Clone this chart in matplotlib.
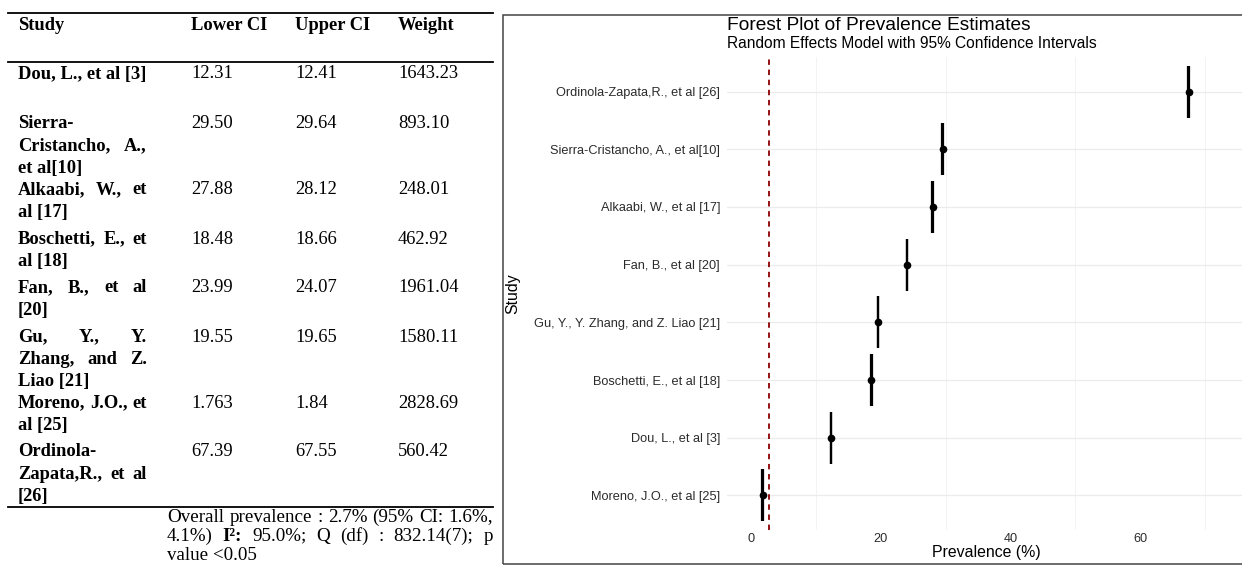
import numpy as np
import matplotlib
matplotlib.use("Agg")
import matplotlib.pyplot as plt
from matplotlib.lines import Line2D
from matplotlib.patches import Rectangle

# Study data (table + forest plot)
studies = ["Dou, L., et al [3]", "Sierra-Cristancho, A., et al[10]", "Alkaabi, W., et al [17]",
           "Boschetti, E., et al [18]", "Fan, B., et al [20]", "Gu, Y., Y. Zhang, and Z. Liao [21]",
           "Moreno, J.O., et al [25]", "Ordinola-Zapata,R., et al [26]"]
lower_ci = ["12.31", "29.50", "27.88", "18.48", "23.99", "19.55", "1.763", "67.39"]
upper_ci = ["12.41", "29.64", "28.12", "18.66", "24.07", "19.65", "1.84", "67.55"]
weights = ["1643.23", "893.10", "248.01", "462.92", "1961.04", "1580.11", "2828.69", "560.42"]
pooled = 2.7

# how the names wrap inside the table's study column
study_lines = [["Dou, L., et al [3]"],
               ["Sierra-", "Cristancho, A.,", "et al[10]"],
               ["Alkaabi, W., et", "al [17]"],
               ["Boschetti, E., et", "al [18]"],
               ["Fan, B., et al", "[20]"],
               ["Gu, Y., Y.", "Zhang, and Z.", "Liao [21]"],
               ["Moreno, J.O., et", "al [25]"],
               ["Ordinola-", "Zapata,R., et al", "[26]"]]
header = ["Study", "Lower CI", "Upper CI", "Weight"]
footnote = ["Overall prevalence : 2.7% (95% CI: 1.6%,",
            "4.1%) I²: 95.0%; Q (df) : 832.14(7); p",
            "value <0.05"]

W, H = 1242, 566
fig = plt.figure(figsize=(W / 100, H / 100), dpi=100)
renderer = fig.canvas.get_renderer()


def fx(x):
    return x / W


def fy(y):
    return 1 - y / H


SERIF = "Liberation Serif"
SANS = "Liberation Sans"
TSIZE = 13.3


def put_line(text, x0, x1, y, justify, bold_words=(), **kw):
    # word-by-word placement so lines can be justified like the source table
    words = text.split()
    if not justify or len(words) == 1:
        fig.text(fx(x0), fy(y), text, va="center", **kw)
        return
    objs = []
    for w in words:
        extra = {"weight": "bold"} if w in bold_words else {}
        objs.append(fig.text(0, fy(y), w, va="center", **{**kw, **extra}))
    widths = [o.get_window_extent(renderer).width for o in objs]
    gap = (x1 - x0 - sum(widths)) / (len(words) - 1)
    x = x0
    for o, w in zip(objs, widths):
        o.set_x(fx(x))
        x += w + gap


# ---- left: table ----
col_x = [18, 191, 295, 398]
row_y = [74, 124, 190, 239, 288, 337, 403, 452]
line_gap = 22.2

for x, h in zip(col_x, header):
    fig.text(fx(x), fy(25), h, va="center", family=SERIF, size=TSIZE, weight="bold")

for i in range(len(studies)):
    lines = study_lines[i]
    for j, ln in enumerate(lines):
        put_line(ln, 18, 147, row_y[i] + j * line_gap, j < len(lines) - 1,
                 family=SERIF, size=TSIZE, weight="bold")
    for x, val in zip(col_x[1:], [lower_ci[i], upper_ci[i], weights[i]]):
        fig.text(fx(x), fy(row_y[i]), val, va="center", family=SERIF, size=TSIZE)

for j, ln in enumerate(footnote):
    put_line(ln, 167, 493, 517 + j * 19.3, j < len(footnote) - 1, bold_words=("I²:",),
             family=SERIF, size=13.7)

for yy in [12.5, 62, 507]:
    fig.add_artist(Line2D([fx(8), fx(493)], [fy(yy), fy(yy)], transform=fig.transFigure,
                          color="black", lw=1.3))

# ---- right: forest plot ----
fig.add_artist(Rectangle((fx(503), fy(564)), fx(760), (564 - 15) / H, transform=fig.transFigure,
                         fill=False, ec="#444444", lw=1.1))

lo = np.array(lower_ci, float)
hi = np.array(upper_ci, float)
mid = (lo + hi) / 2
order = np.argsort(mid)
ypos = np.empty(len(mid))
ypos[order] = np.arange(1, len(mid) + 1)

ax = fig.add_axes([fx(727), fy(530), fx(1242) - fx(727), (530 - 57) / H])
ax.set_axisbelow(True)
ax.hlines(ypos, lo, hi, color="black", lw=1.6)
ax.vlines(lo, ypos - 0.45, ypos + 0.45, color="black", lw=1.6)
ax.vlines(hi, ypos - 0.45, ypos + 0.45, color="black", lw=1.6)
ax.plot(mid, ypos, "o", color="black", ms=4.5)
ax.axvline(pooled, color="#8B0000", ls=(0, (3, 2.6)), lw=1.3)

ax.set_yticks(ypos, studies, family=SANS, size=9.2, color="#2B2B2B")
ax.set_xticks([0, 20, 40, 60], ["0", "20", "40", "60"], family=SANS, size=9.2, color="#2B2B2B")
ax.set_xticks([10, 30, 50, 70], minor=True)
ax.grid(axis="y", which="major", color="#EBEBEB", lw=0.9)
ax.grid(axis="x", which="minor", color="#EEEEEE", lw=0.5)
ax.grid(axis="x", which="major", visible=False)
ax.tick_params(which="both", length=0)
ax.tick_params(axis="y", pad=5)
ax.tick_params(axis="x", pad=2.5)
for s in ax.spines.values():
    s.set_visible(False)
ax.set_xlim(-3.7, 75.7)
ax.set_ylim(0.4, 8.6)

ax.set_xlabel("Prevalence (%)", family=SANS, size=11.4)
ax.xaxis.set_label_coords((986 - 727) / 515, -(553 - 530) / 473)
ax.xaxis.label.set_va("center")
ax.set_ylabel("Study", family=SANS, size=11.4)
ax.yaxis.set_label_coords((513 - 727) / 515, 0.5)
ax.yaxis.label.set_va("center")

fig.text(fx(727), fy(26), "Forest Plot of Prevalence Estimates", va="center",
         family=SANS, size=13.8)
fig.text(fx(727), fy(44), "Random Effects Model with 95% Confidence Intervals", va="center",
         family=SANS, size=11.2)

fig.savefig("out.png", dpi=100)
